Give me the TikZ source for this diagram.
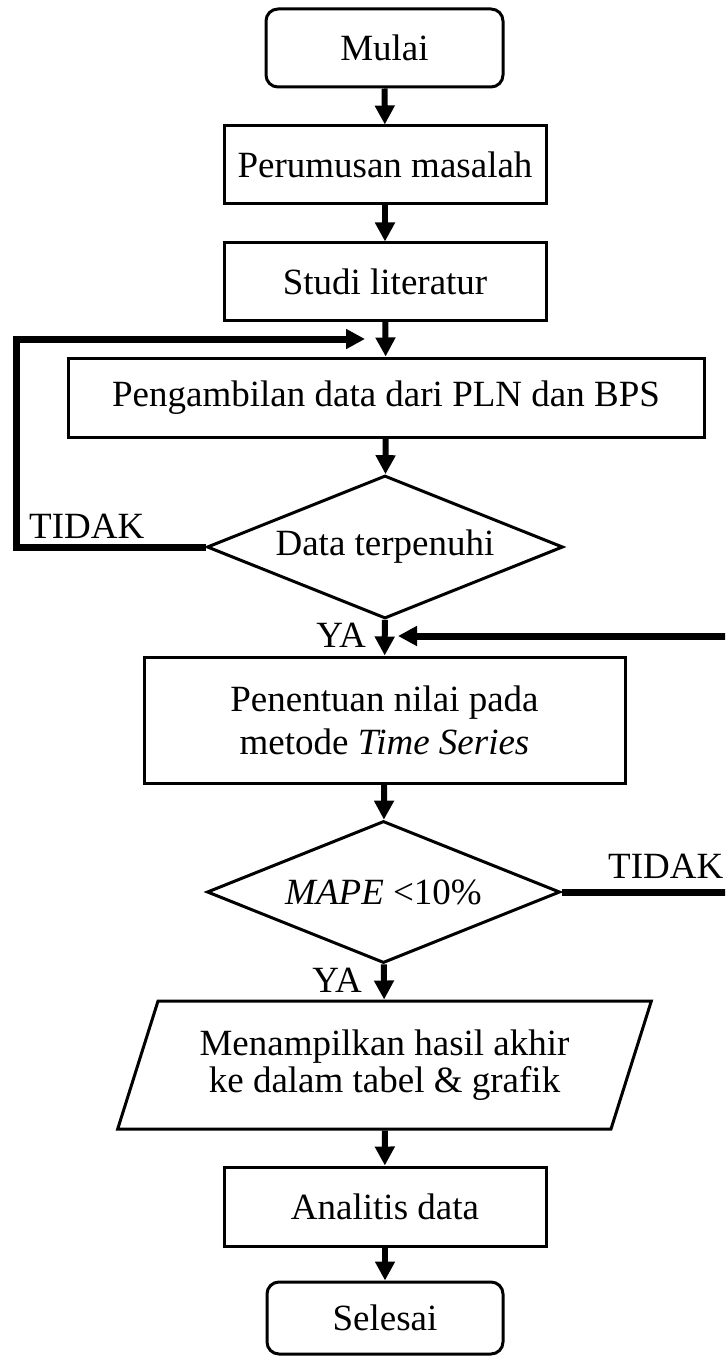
\documentclass[tikz,border=0pt]{standalone}
\usepackage{fontspec}
\setmainfont{Liberation Serif}
\usetikzlibrary{arrows.meta,shapes.geometric}
\begin{document}
\begin{tikzpicture}[x=1pt,y=-1pt,
  every node/.style={font=\fontsize{37}{43}\selectfont},
  proc/.style={draw, line width=3pt, inner sep=0pt, align=center},
  term/.style={proc, rounded corners=12pt},
  dec/.style={draw, line width=3pt, diamond, inner sep=0pt, align=center, shape aspect=2.5},
  io/.style={draw, line width=3pt, trapezium, trapezium left angle=65, trapezium right angle=115,
             trapezium stretches=true, inner sep=0pt, align=center},
  flow/.style={line width=6pt, -{Triangle[length=19pt,width=19pt]}},
  back/.style={line width=7pt, line join=miter, -{Triangle[length=19pt,width=19pt]}},
  lab/.style={inner sep=0pt}
]
\path[use as bounding box, clip] (0,0) rectangle (725,1356);

\node[term, minimum width=237pt, minimum height=78pt] (mulai) at (384.5,48) {Mulai};
\node[proc, minimum width=322pt, minimum height=78pt] (perum) at (385,165) {Perumusan masalah};
\node[proc, minimum width=322pt, minimum height=77pt] (studi) at (385,281.5) {Studi literatur};
\node[proc, minimum width=636pt, minimum height=79pt] (ambil) at (386,397.5) {Pengambilan data dari PLN dan BPS};
\node[dec, minimum width=356pt, minimum height=143pt] (d1) at (385,547) {Data terpenuhi};
\node[proc, minimum width=481pt, minimum height=126pt] (tentu) at (384.5,720) {Penentuan nilai pada\\metode \textit{Time Series}};
\node[dec, minimum width=353pt, minimum height=142pt] (d2) at (383.5,892) {\textit{MAPE} <10\%};
\node[io, minimum width=535pt, minimum height=128pt] (out) at (384.5,1065) {Menampilkan hasil akhir\\[-6pt]ke dalam tabel \& grafik};
\node[proc, minimum width=322pt, minimum height=79pt] (anal) at (385,1206.5) {Analitis data};
\node[term, minimum width=236pt, minimum height=72pt] (sel) at (385,1318) {Selesai};

% labels
\node[lab, anchor=base west] (t1) at (29,538) {TIDAK};
\node[lab, anchor=base east] (y1) at (366,647) {YA};
\node[lab, anchor=base west] (t2) at (608,878) {TIDAK};
\node[lab, anchor=base east] (y2) at (362,992) {YA};

% main flow
\draw[flow] (mulai) -- (perum);
\draw[flow] (perum) -- (studi);
\draw[flow] (studi) -- (ambil);
\draw[flow] (ambil) -- (d1);
\draw[flow] (d1) -- (tentu);
\draw[flow] (tentu) -- (d2);
\draw[flow] (d2) -- (out);
\draw[flow] (out) -- (anal);
\draw[flow] (anal) -- (sel);

% loops
\coordinate (lc) at (16.5,339);
\coordinate (j1) at (365,339);
\draw[back] (d1.west) -| (lc) -- (j1);
\coordinate (rc) at (745,636);
\coordinate (j2) at (398,636);
\draw[back] (d2.east) -| (rc) -- (j2);
\end{tikzpicture}
\end{document}
